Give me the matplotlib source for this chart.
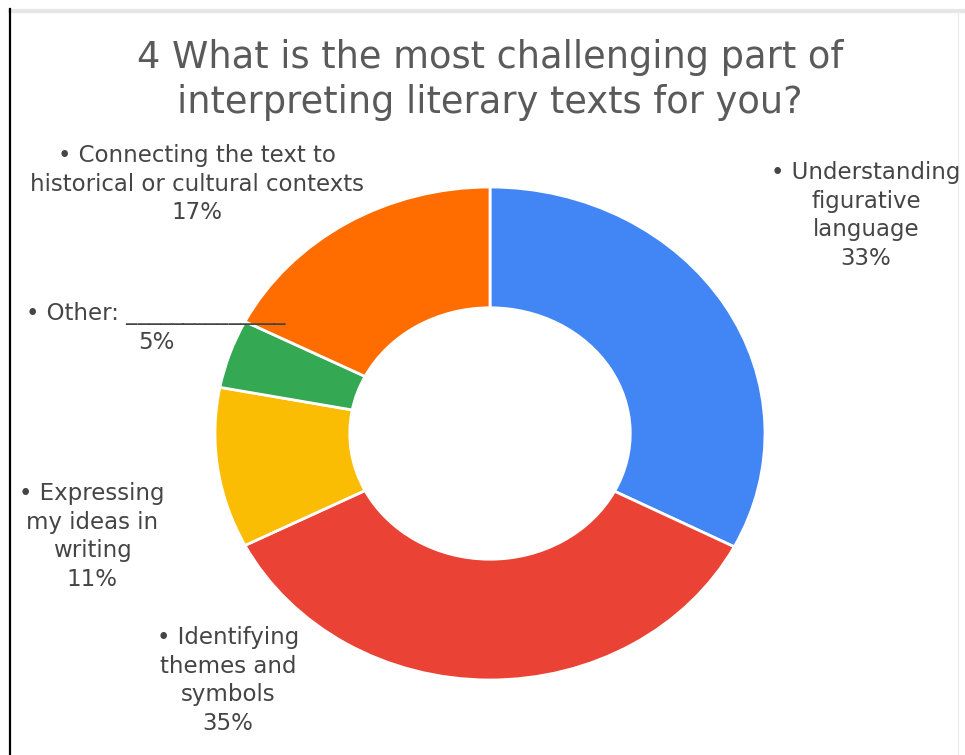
import matplotlib
matplotlib.use("Agg")
import matplotlib.pyplot as plt
from matplotlib.lines import Line2D

categories = ["Understanding figurative language",
              "Identifying themes and symbols",
              "Expressing my ideas in writing",
              "Other: ____________",
              "Connecting the text to historical or cultural contexts"]
shares = [32.6, 34.9, 10.5, 4.5, 17.5]
pct_labels = ["33%", "35%", "11%", "5%", "17%"]
colors = ["#4285F4", "#EA4335", "#FBBC04", "#34A853", "#FF6D01"]

# label text blocks, line by line (layout only)
label_lines = [
    ["\u2022 Understanding", "figurative", "language", pct_labels[0]],
    ["\u2022 Identifying", "themes and", "symbols", pct_labels[1]],
    ["\u2022 Expressing", "my ideas in", "writing", pct_labels[2]],
    ["\u2022 Other: ______________", pct_labels[3]],
    ["\u2022 Connecting the text to", "historical or cultural contexts", pct_labels[4]],
]
label_x = [866, 228, 92, 156, 197]
label_y0 = [179, 644, 500, 320, 162]   # baseline of first line, px from top
line_step = 28.6

W, H = 965, 755
fig = plt.figure(figsize=(W / 100, H / 100), dpi=100)
fig.patch.set_facecolor("white")

def px(x, y):
    return x / W, 1 - y / H

# donut; the original screenshot is stretched sideways, so aspect stays auto
cx, cy, rx, ry = 490, 433.5, 275, 246.5
lim = 1.2
ax = fig.add_axes([(cx - rx * lim) / W, (H - cy - ry * lim) / H,
                   2 * rx * lim / W, 2 * ry * lim / H])
ax.pie(shares, colors=colors, startangle=90, counterclock=False,
       wedgeprops=dict(width=0.49, edgecolor="white", linewidth=2))
ax.set_aspect("auto")
ax.set_xlim(-lim, lim)
ax.set_ylim(-lim, lim)
ax.axis("off")

# title
title_lines = ["4 What is the most challenging part of",
               "interpreting literary texts for you?"]
for i, t in enumerate(title_lines):
    x, y = px(490, 68 + 45 * i)
    fig.text(x, y, t, ha="center", va="baseline", fontsize=26.5,
             family="DejaVu Sans", color="#5a5a5a")

# slice labels
for lines, lx, ly in zip(label_lines, label_x, label_y0):
    for j, t in enumerate(lines):
        x, y = px(lx, ly + j * line_step)
        fig.text(x, y, t, ha="center", va="baseline", fontsize=16.5,
                 family="DejaVu Sans", color="#454545", zorder=5)

# screenshot frame (gray first so the black edge sits on top)
fig.add_artist(Line2D([10 / W, 1], [1 - 11 / H, 1 - 11 / H], color="#e6e6e6",
                      linewidth=3, transform=fig.transFigure))
fig.add_artist(Line2D([958 / W, 958 / W], [0, 1 - 12 / H], color="#ececec",
                      linewidth=1, transform=fig.transFigure))
fig.add_artist(Line2D([10 / W, 10 / W], [0, 1 - 9 / H], color="black",
                      linewidth=1.6, transform=fig.transFigure))

fig.savefig("out.png", dpi=100, facecolor="white")
